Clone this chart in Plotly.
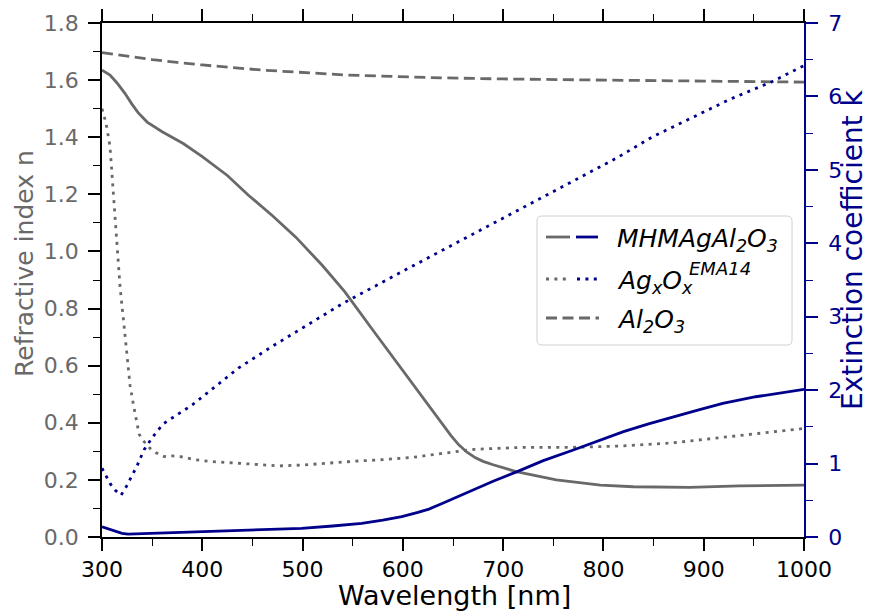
import plotly.graph_objects as go

# ---------------- data ----------------
wl_mhma_n = [300, 308, 315, 323, 330, 336, 345, 360, 381, 400, 425, 446, 470, 493, 520, 542, 570,
             590, 606, 626, 638, 648, 656, 664, 672, 680, 690, 700, 713, 753, 797, 830, 886, 936,
             1000]
n_mhma = [1.635, 1.618, 1.59, 1.553, 1.515, 1.486, 1.453, 1.419, 1.378, 1.332, 1.266, 1.197, 1.125,
          1.051, 0.95, 0.859, 0.725, 0.63, 0.553, 0.458, 0.40, 0.355, 0.322, 0.297, 0.278, 0.265,
          0.253, 0.243, 0.229, 0.20, 0.182, 0.176, 0.174, 0.179, 0.182]

wl_ag_n = [300, 304, 308, 313, 318, 322, 325, 328, 331, 334, 337, 342, 348, 354, 362, 370, 379,
           394, 410, 428, 450, 477, 500, 527, 550, 576, 610, 640, 671, 720, 770, 820, 870, 919,
           969, 1000]
n_ag = [1.50, 1.45, 1.367, 1.133, 0.876, 0.74, 0.643, 0.53, 0.47, 0.42, 0.36, 0.334, 0.31, 0.295,
        0.282, 0.284, 0.281, 0.27, 0.264, 0.26, 0.255, 0.249, 0.252, 0.26, 0.265, 0.27, 0.279,
        0.293, 0.307, 0.314, 0.314, 0.319, 0.33, 0.349, 0.369, 0.38]

wl_al_n = [300, 320, 350, 375, 400, 460, 500, 543, 638, 700, 803, 900, 1000]
n_al = [1.696, 1.686, 1.672, 1.662, 1.653, 1.635, 1.627, 1.618, 1.608, 1.604, 1.60, 1.596, 1.593]

wl_ag_k = [300, 308, 313, 319, 324, 328, 335, 342, 351, 361, 376, 390, 403, 416, 436, 469, 499,
           540, 600, 650, 700, 776, 813, 849, 886, 926, 968, 1000]
k_ag = [0.936, 0.73, 0.64, 0.57, 0.68, 0.78, 0.97, 1.19, 1.37, 1.54, 1.67, 1.80, 1.94, 2.08, 2.30,
        2.59, 2.84, 3.18, 3.62, 3.98, 4.34, 4.89, 5.16, 5.45, 5.70, 5.96, 6.20, 6.42]

wl_mhma_k = [300, 310, 320, 326, 350, 399, 450, 499, 530, 559, 580, 599, 615, 626, 638, 653, 671,
             690, 714, 740, 770, 795, 820, 845, 870, 895, 919, 952, 1000]
k_mhma = [0.14, 0.09, 0.05, 0.04, 0.05, 0.072, 0.095, 0.118, 0.15, 0.187, 0.23, 0.277, 0.335, 0.38,
          0.45, 0.54, 0.65, 0.76, 0.89, 1.04, 1.185, 1.31, 1.435, 1.54, 1.64, 1.73, 1.82, 1.91, 2.01]

x_ticks = [300, 400, 500, 600, 700, 800, 900, 1000]
n_ticks = [0.0, 0.2, 0.4, 0.6, 0.8, 1.0, 1.2, 1.4, 1.6, 1.8]
k_ticks = [0, 1, 2, 3, 4, 5, 6, 7]

x_title = "Wavelength [nm]"
n_title = "Refractive index n"
k_title = "Extinction coefficient k"

legend_labels = ["<i>MHMAgAl<sub>2</sub>O<sub>3</sub></i>",
                 "<i>Ag<sub>x</sub>O<sub>x</sub></i>",
                 "<i>Al<sub>2</sub>O<sub>3</sub></i>"]
legend_sup = "<i>EMA14</i>"

# ---------------- styles ----------------
GRAY = "#696969"
BLUE = "#00008B"
FONT = "DejaVu Sans"
LW = 2.8
DOT = "3px,5.4px"
DASH = "11px,5.5px"

W, H = 870, 611
ML, MR, MT, MB = 102, 66, 23, 74
PW, PH = W - ML - MR, H - MT - MB


def px(xp):
    return (xp - ML) / PW


def py(yp):
    return (MT + PH - yp) / PH


fig = go.Figure()
fig.add_trace(go.Scatter(x=wl_mhma_n, y=n_mhma, mode="lines", line=dict(color=GRAY, width=LW),
                         showlegend=False))
fig.add_trace(go.Scatter(x=wl_ag_n, y=n_ag, mode="lines",
                         line=dict(color=GRAY, width=LW, dash=DOT), showlegend=False))
fig.add_trace(go.Scatter(x=wl_al_n, y=n_al, mode="lines",
                         line=dict(color=GRAY, width=LW, dash=DASH), showlegend=False))
fig.add_trace(go.Scatter(x=wl_mhma_k, y=k_mhma, mode="lines", yaxis="y2",
                         line=dict(color=BLUE, width=LW), showlegend=False))
fig.add_trace(go.Scatter(x=wl_ag_k, y=k_ag, mode="lines", yaxis="y2",
                         line=dict(color=BLUE, width=LW, dash=DOT), showlegend=False))

tickfont = dict(family=FONT, size=22)

fig.update_layout(
    width=W, height=H,
    margin=dict(l=ML, r=MR, t=MT, b=MB, autoexpand=False),
    paper_bgcolor="white", plot_bgcolor="white",
    showlegend=False,
    xaxis=dict(range=[300, 1000], tickvals=x_ticks, ticks="outside", ticklen=12, tickwidth=1.5,
               tickcolor="black", showline=True, linecolor="black", linewidth=1.5, mirror="ticks",
               showgrid=False, zeroline=False, tickfont=dict(tickfont, color="black"),
               minor=dict(dtick=50, ticks="outside", ticklen=7, tickwidth=1.2, tickcolor="black",
                          showgrid=False)),
    yaxis=dict(range=[0, 1.8], tickvals=n_ticks, ticktext=[f"{v:.1f}" for v in n_ticks],
               ticks="outside", ticklen=12, tickwidth=1.5, tickcolor="black", ticklabelstandoff=5,
               showline=True, linecolor="black", linewidth=1.5, showgrid=False, zeroline=False,
               tickfont=dict(tickfont, color=GRAY),
               minor=dict(dtick=0.1, ticks="outside", ticklen=7, tickwidth=1.2, tickcolor="black",
                          showgrid=False)),
    yaxis2=dict(range=[0, 7], tickvals=k_ticks, overlaying="y", side="right", anchor="x",
                ticks="outside", ticklen=12, tickwidth=1.5, tickcolor=BLUE, ticklabelstandoff=6,
                showline=True, linecolor=BLUE, linewidth=1.5, showgrid=False, zeroline=False,
                tickfont=dict(tickfont, color=BLUE),
                minor=dict(dtick=0.5, ticks="outside", ticklen=7, tickwidth=1.2, tickcolor=BLUE,
                           showgrid=False)),
)

# axis titles placed where the reference shows them
fig.add_annotation(text=x_title, xref="paper", yref="paper", x=px(454), y=py(579),
                   xanchor="center", yanchor="top", showarrow=False, borderpad=0,
                   font=dict(family=FONT, size=27, color="black"))
fig.add_annotation(text=n_title, xref="paper", yref="paper", x=px(24), y=py(264),
                   xanchor="center", yanchor="middle", textangle=-90, showarrow=False, borderpad=0,
                   font=dict(family=FONT, size=25, color=GRAY))
fig.add_annotation(text=k_title, xref="paper", yref="paper", x=px(852), y=py(250),
                   xanchor="center", yanchor="middle", textangle=-90, showarrow=False, borderpad=0,
                   font=dict(family=FONT, size=28, color=BLUE))

# ---------------- custom legend (two-colour handles as in the reference) ----------------
bx0, bx1, by0, by1, rad = 537, 792, 216, 345, 5
rx, ry = rad / PW, rad / PH
x0, x1, y0, y1 = px(bx0), px(bx1), py(by1), py(by0)
path = (f"M {x0+rx},{y0} L {x1-rx},{y0} Q {x1},{y0} {x1},{y0+ry} L {x1},{y1-ry} "
        f"Q {x1},{y1} {x1-rx},{y1} L {x0+rx},{y1} Q {x0},{y1} {x0},{y1-ry} L {x0},{y0+ry} "
        f"Q {x0},{y0} {x0+rx},{y0} Z")
fig.add_shape(type="path", path=path, xref="paper", yref="paper",
              line=dict(color="#d0d0d0", width=1), fillcolor="rgba(255,255,255,0.85)", layer="above")

rows = [237, 279, 318]
handles = [
    [(546, 570, GRAY, None), (576, 598, BLUE, None)],
    [(546, 566, GRAY, DOT), (577, 599, BLUE, DOT)],
    [(546, 599, GRAY, DASH)],
]
for yr, hs in zip(rows, handles):
    for (a, b, c, d) in hs:
        ln = dict(color=c, width=LW)
        if d:
            ln["dash"] = d
        fig.add_shape(type="line", xref="paper", yref="paper", x0=px(a), x1=px(b),
                      y0=py(yr), y1=py(yr), line=ln, layer="above")

legend_font = dict(family=FONT, size=25, color="black")
for yr, lab in zip(rows, legend_labels):
    fig.add_annotation(text=lab, xref="paper", yref="paper", x=px(615), y=py(yr + 3),
                       xanchor="left", yanchor="middle", showarrow=False, font=legend_font)
fig.add_annotation(text=legend_sup, xref="paper", yref="paper", x=px(687), y=py(268),
                   xanchor="left", yanchor="middle", showarrow=False,
                   font=dict(family=FONT, size=18, color="black"))

fig.write_html("out.html")
